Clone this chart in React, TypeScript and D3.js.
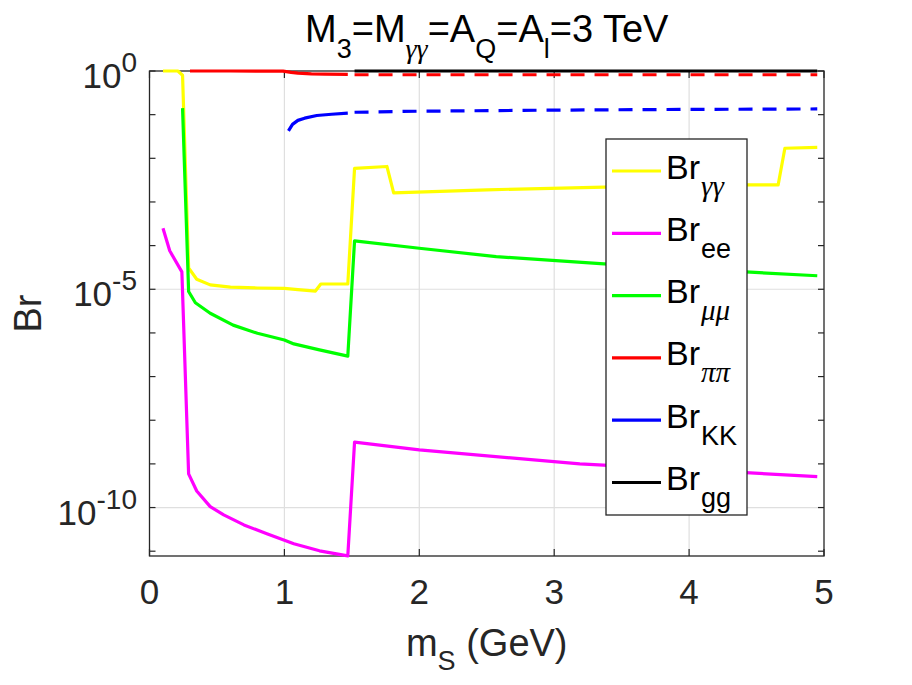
import React from "react";
import * as d3 from "d3";

// m_S (GeV) and branching ratios
const mGammaGamma = [0.1, 0.21, 0.245, 0.29, 0.35, 0.45, 0.6, 0.8, 1.0, 1.1, 1.23, 1.27, 1.47, 1.52, 1.76, 1.81, 2.5, 3.37, 4.42, 4.66, 4.71, 4.95];
const brGammaGamma = [1, 1, 0.8, 3.1e-5, 1.7e-5, 1.26e-5, 1.12e-5, 1.07e-5, 1.05e-5, 9.8e-6, 9.1e-6, 1.32e-5, 1.32e-5, 5.9e-3, 6.5e-3, 1.62e-3, 1.9e-3, 2.19e-3, 2.45e-3, 2.45e-3, 1.7e-2, 1.78e-2];

const mEE = [0.1, 0.15, 0.24, 0.29, 0.35, 0.45, 0.55, 0.7, 0.87, 1.07, 1.26, 1.47, 1.52, 2.0, 3.19, 4.42, 4.95];
const brEE = [2.5e-4, 7.6e-5, 2.5e-5, 5.9e-10, 2.4e-10, 1.05e-10, 6.8e-11, 4.0e-11, 2.5e-11, 1.48e-11, 1.02e-11, 7.8e-12, 3.16e-9, 2.1e-9, 1.0e-9, 6.3e-10, 5.1e-10];

const mMuMu = [0.245, 0.29, 0.34, 0.45, 0.62, 0.8, 1.0, 1.07, 1.26, 1.47, 1.52, 2.0, 2.57, 3.37, 4.42, 4.95];
const brMuMu = [0.141, 8.9e-6, 4.9e-6, 2.82e-6, 1.51e-6, 9.8e-7, 6.9e-7, 5.6e-7, 4.1e-7, 2.95e-7, 1.29e-4, 8.7e-5, 5.6e-5, 3.8e-5, 2.5e-5, 2.04e-5];

const mPiPi = [0.3, 0.6, 0.99, 1.05, 1.1, 1.2, 1.3, 1.47];
const brPiPi = [1, 1, 0.995, 0.93, 0.89, 0.86, 0.85, 0.84];
const mPiPiHigh = [1.52, 3.0, 4.95];
const brPiPiHigh = [0.82, 0.82, 0.82];

const mKK = [1.03, 1.06, 1.1, 1.15, 1.24, 1.35, 1.47];
const brKK = [0.0427, 0.06, 0.074, 0.083, 0.0955, 0.102, 0.108];
const mKKHigh = [1.52, 2.0, 3.0, 4.0, 4.95];
const brKKHigh = [0.1135, 0.12, 0.127, 0.132, 0.135];

const mGG = [1.52, 3.0, 4.95];
const brGG = [1, 1, 1];

const xTicks = [0, 1, 2, 3, 4, 5];
const yMajor = [0, -5, -10];
const yDecades = [0, -1, -2, -3, -4, -5, -6, -7, -8, -9, -10, -11];

const legendItems = [
  { sub: "γγ", color: "#ffff00", greek: true },
  { sub: "ee", color: "#ff00ff", greek: false },
  { sub: "μμ", color: "#00ff00", greek: true },
  { sub: "ππ", color: "#ff0000", greek: true },
  { sub: "KK", color: "#0000ff", greek: false },
  { sub: "gg", color: "#000000", greek: false },
];

const W = 912;
const H = 685;
const plot = { left: 149.5, right: 824, top: 71, bottom: 556 };
const axisColor = "#262626";
const sans = "'Liberation Sans', Arial, Helvetica, sans-serif";
const serif = "'Liberation Serif', 'DejaVu Serif', serif";

export default function App() {
  const x = d3.scaleLinear().domain([0, 5]).range([plot.left, plot.right]);
  const y = d3.scaleLog().domain([Math.pow(10, -11.11), 1]).range([plot.bottom, plot.top]);

  const path = (xs: number[], ys: number[]) =>
    d3
      .line<number>()
      .x((_, i) => x(xs[i]))
      .y((d) => y(d))(ys) || "";

  const series = [
    { xs: mGammaGamma, ys: brGammaGamma, color: "#ffff00", dash: "" },
    { xs: mEE, ys: brEE, color: "#ff00ff", dash: "" },
    { xs: mMuMu, ys: brMuMu, color: "#00ff00", dash: "" },
    { xs: mPiPi, ys: brPiPi, color: "#ff0000", dash: "" },
    { xs: mPiPiHigh, ys: brPiPiHigh, color: "#ff0000", dash: "14,10" },
    { xs: mKK, ys: brKK, color: "#0000ff", dash: "" },
    { xs: mKKHigh, ys: brKKHigh, color: "#0000ff", dash: "14,10" },
    { xs: mGG, ys: brGG, color: "#000000", dash: "" },
  ];

  const leg = { left: 606, top: 139, right: 747, bottom: 515, first: 171, step: 62.3 };

  return (
    <svg width={W} height={H} style={{ position: "absolute", left: 0, top: 0, background: "#fff" }} fontFamily={sans}>
      <rect x={0} y={0} width={W} height={H} fill="#fff" />
      <rect x={plot.left} y={plot.top} width={plot.right - plot.left} height={plot.bottom - plot.top} fill="#fff" />

      {/* grid */}
      {xTicks.slice(1, -1).map((t) => (
        <line key={"gx" + t} x1={x(t)} x2={x(t)} y1={plot.top} y2={plot.bottom} stroke="#dfdfdf" strokeWidth={1.2} />
      ))}
      {yMajor.slice(1).map((e) => (
        <line key={"gy" + e} x1={plot.left} x2={plot.right} y1={y(Math.pow(10, e))} y2={y(Math.pow(10, e))} stroke="#dfdfdf" strokeWidth={1.2} />
      ))}

      {/* ticks */}
      {xTicks.map((t) => (
        <g key={"tx" + t}>
          <line x1={x(t)} x2={x(t)} y1={plot.bottom} y2={plot.bottom - 7} stroke={axisColor} strokeWidth={1.2} />
          <line x1={x(t)} x2={x(t)} y1={plot.top} y2={plot.top + 7} stroke={axisColor} strokeWidth={1.2} />
          <text x={x(t)} y={604} textAnchor="middle" fontSize={35} fill={axisColor}>
            {t}
          </text>
        </g>
      ))}
      {yDecades.map((e) => (
        <g key={"ty" + e}>
          <line x1={plot.left} x2={plot.left + 6} y1={y(Math.pow(10, e))} y2={y(Math.pow(10, e))} stroke={axisColor} strokeWidth={1.2} />
          <line x1={plot.right} x2={plot.right - 6} y1={y(Math.pow(10, e))} y2={y(Math.pow(10, e))} stroke={axisColor} strokeWidth={1.2} />
        </g>
      ))}
      {yMajor.map((e) => (
        <text key={"ly" + e} x={137} y={y(Math.pow(10, e)) + 17} textAnchor="end" fontSize={35} fill={axisColor}>
          <tspan>10</tspan>
          <tspan fontSize={28} dy={-16}>
            {e === 0 ? "0" : "-" + Math.abs(e)}
          </tspan>
        </text>
      ))}

      {/* box */}
      <rect x={plot.left} y={plot.top} width={plot.right - plot.left} height={plot.bottom - plot.top} fill="none" stroke={axisColor} strokeWidth={1.3} />

      {/* series */}
      {series.map((s, i) => (
        <path key={"s" + i} d={path(s.xs, s.ys)} fill="none" stroke={s.color} strokeWidth={3.2} strokeDasharray={s.dash || undefined} strokeLinejoin="round" />
      ))}

      {/* labels */}
      <text x={(plot.left + plot.right) / 2} y={42} textAnchor="middle" fontSize={38} fill="#000">
        <tspan>M</tspan>
        <tspan fontSize={27} dy={16}>3</tspan>
        <tspan dy={-16}>=M</tspan>
        <tspan fontSize={28} dy={16} fontFamily={serif} fontStyle="italic">γγ</tspan>
        <tspan dy={-16}>=A</tspan>
        <tspan fontSize={27} dy={16}>Q</tspan>
        <tspan dy={-16}>=A</tspan>
        <tspan fontSize={27} dy={16}>l</tspan>
        <tspan dy={-16}>=3 TeV</tspan>
      </text>
      <text x={(plot.left + plot.right) / 2} y={656} textAnchor="middle" fontSize={38} fill={axisColor}>
        <tspan>m</tspan>
        <tspan fontSize={27} dy={14}>S</tspan>
        <tspan dy={-14}> (GeV)</tspan>
      </text>
      <text transform={`translate(41,${(plot.top + plot.bottom) / 2}) rotate(-90)`} textAnchor="middle" fontSize={38} fill={axisColor}>
        Br
      </text>

      {/* legend */}
      <rect x={leg.left} y={leg.top} width={leg.right - leg.left} height={leg.bottom - leg.top} fill="#fff" stroke={axisColor} strokeWidth={1.3} />
      {legendItems.map((it, i) => {
        const ly = leg.first + i * leg.step;
        return (
          <g key={"lg" + i}>
            <line x1={612} x2={661} y1={ly} y2={ly} stroke={it.color} strokeWidth={3.2} />
            <text x={666} y={ly + 7.5} fontSize={34} fill="#000">
              <tspan>Br</tspan>
              <tspan
                fontSize={it.greek ? 29 : 27}
                dy={17}
                dx={1}
                fontFamily={it.greek ? serif : sans}
                fontStyle={it.greek ? "italic" : "normal"}
              >
                {it.sub}
              </tspan>
            </text>
          </g>
        );
      })}
    </svg>
  );
}
